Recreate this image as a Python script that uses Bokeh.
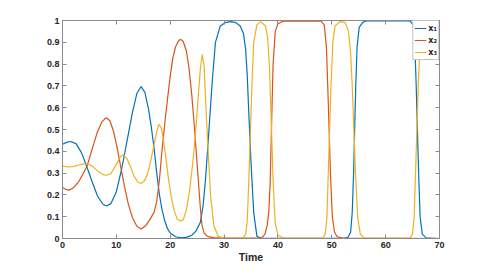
from bokeh.plotting import figure
from bokeh.models import Range1d, FixedTicker, LinearAxis, Legend, LegendItem
from bokeh.embed import file_html
from bokeh.resources import INLINE

# ---- data ----
t1 = [0, 0.75, 1.5, 2.5, 3.5, 4.5, 5.5, 6.5, 7.5, 8.2, 9, 10, 11, 12, 13, 13.8, 14.6, 15.3, 16, 16.5,
      17, 17.5, 18, 18.5, 19, 19.5, 20, 21, 22, 23, 24, 24.8, 25.6, 26.1, 26.55, 27.2, 27.8, 28.4, 29.3,
      30.2, 31.2, 32.2, 33.0, 33.6, 34.0, 34.3, 34.6, 35.0, 35.5, 36.1, 37, 52.3, 53.0, 53.5, 53.8, 54.05,
      54.25, 54.45, 54.7, 55.1, 55.8, 56.5, 64.5, 65.1, 65.4, 65.65, 65.9, 66.15, 66.4, 66.8, 67.5, 70]
x1 = [0.432, 0.441, 0.445, 0.435, 0.395, 0.33, 0.26, 0.195, 0.157, 0.149, 0.16, 0.215, 0.32, 0.45, 0.58,
      0.665, 0.697, 0.67, 0.59, 0.51, 0.415, 0.30, 0.20, 0.13, 0.08, 0.045, 0.025, 0.008, 0.003, 0.005,
      0.015, 0.035, 0.075, 0.15, 0.27, 0.5, 0.72, 0.90, 0.975, 0.99, 0.995, 0.99, 0.975, 0.94, 0.87, 0.75,
      0.57, 0.35, 0.12, 0.01, 0.001, 0.001, 0.005, 0.03, 0.12, 0.3, 0.5, 0.7, 0.88, 0.97, 0.993, 0.998,
      0.998, 0.98, 0.9, 0.72, 0.5, 0.28, 0.1, 0.02, 0.003, 0.0]

t2 = [0, 0.6, 1.2, 2, 3, 4, 4.6, 5.5, 6.5, 7.3, 8.1, 8.8, 9.5, 10.2, 10.8, 11.5, 12.2, 13, 13.8, 14.6,
      15.5, 16.3, 17, 17.5, 18, 18.5, 19, 19.5, 20, 20.5, 21, 21.5, 21.9, 22.4, 23, 23.5, 24, 24.5, 25,
      25.3, 25.6, 25.9, 26.3, 26.9, 28, 30, 37, 37.6, 38.0, 38.3, 38.55, 38.8, 39.1, 39.5, 40, 41, 48,
      48.6, 49, 49.25, 49.5, 49.75, 50.1, 50.5, 51, 52, 70]
x2 = [0.234, 0.226, 0.222, 0.232, 0.26, 0.305, 0.335, 0.41, 0.49, 0.535, 0.554, 0.54, 0.49, 0.41, 0.33,
      0.24, 0.16, 0.095, 0.056, 0.044, 0.06, 0.09, 0.12, 0.17, 0.27, 0.41, 0.53, 0.64, 0.745, 0.83, 0.88,
      0.905, 0.914, 0.905, 0.86, 0.78, 0.66, 0.51, 0.34, 0.24, 0.14, 0.06, 0.025, 0.01, 0.004, 0.002,
      0.003, 0.02, 0.06, 0.12, 0.25, 0.5, 0.8, 0.95, 0.985, 0.997, 0.997, 0.98, 0.88, 0.7, 0.5, 0.3, 0.1,
      0.03, 0.008, 0.002, 0.0]

t3 = [0, 1, 2, 3, 4, 4.6, 5.5, 6.5, 7.5, 8.2, 9, 10, 10.7, 11.3, 12, 12.6, 13.3, 14, 14.6, 15.2, 15.6, 16,
      16.5, 17, 17.5, 17.9, 18.3, 18.7, 19.2, 19.7, 20.2, 20.7, 21.3, 21.9, 22.4, 23, 23.6, 24.2, 24.7,
      25.2, 25.6, 25.95, 26.3, 26.55, 27.0, 27.5, 28.1, 28.9, 30, 33.5, 34.0, 34.3, 34.6, 34.9, 35.2,
      35.5, 36.1, 36.8, 37.7, 38.1, 38.4, 38.75, 39.1, 39.5, 40, 41, 48.3, 48.8, 49.1, 49.35, 49.6, 49.85,
      50.2, 50.6, 51.5, 52.5, 53.1, 53.5, 53.8, 54.1, 54.4, 54.8, 55.3, 56, 64.5, 65, 65.3, 65.55, 65.8,
      66.05, 66.4, 66.8, 67.5, 70]
x3 = [0.332, 0.328, 0.33, 0.337, 0.342, 0.343, 0.333, 0.31, 0.293, 0.29, 0.298, 0.34, 0.375, 0.384, 0.365,
      0.33, 0.285, 0.258, 0.253, 0.265, 0.285, 0.315, 0.37, 0.43, 0.49, 0.523, 0.51, 0.46, 0.37, 0.27,
      0.19, 0.13, 0.09, 0.08, 0.085, 0.13, 0.22, 0.35, 0.48, 0.65, 0.78, 0.845, 0.79, 0.647, 0.42, 0.197,
      0.06, 0.01, 0.002, 0.002, 0.02, 0.08, 0.27, 0.5, 0.72, 0.9, 0.98, 0.995, 0.975, 0.92, 0.8, 0.55,
      0.27, 0.07, 0.015, 0.002, 0.002, 0.02, 0.1, 0.3, 0.5, 0.7, 0.9, 0.975, 0.995, 0.99, 0.95, 0.85, 0.7,
      0.5, 0.3, 0.1, 0.02, 0.003, 0.002, 0.02, 0.1, 0.3, 0.5, 0.7, 0.9, 0.975, 0.995, 0.998]

series_names = ["x\u2081", "x\u2082", "x\u2083"]
x_ticks = [0, 10, 20, 30, 40, 50, 60, 70]
y_ticks = [0, 0.1, 0.2, 0.3, 0.4, 0.5, 0.6, 0.7, 0.8, 0.9, 1]
y_tick_labels = ["0", "0.1", "0.2", "0.3", "0.4", "0.5", "0.6", "0.7", "0.8", "0.9", "1"]
x_label = "Time"

# ---- styling ----
colors = ["#0072BD", "#D95319", "#EDB120"]
AX = "#8a8a8a"
TXT = "#262626"
FONT = "Liberation Sans"

p = figure(width=477, height=265, output_backend="svg", toolbar_location=None,
           x_range=Range1d(0, 70), y_range=Range1d(0, 1),
           min_border_left=62, min_border_right=38, min_border_top=20, min_border_bottom=23)
p.background_fill_color = "white"
p.border_fill_color = "white"
p.outline_line_color = AX
p.xgrid.visible = False
p.ygrid.visible = False

renderers = []
for t, v, c in zip([t1, t2, t3], [x1, x2, x3], colors):
    renderers.append(p.line(t, v, line_color=c, line_width=1.2))

def style_axis(ax):
    ax.axis_line_color = AX
    ax.major_tick_line_color = AX
    ax.major_tick_in = 4
    ax.major_tick_out = 0
    ax.minor_tick_in = 0
    ax.minor_tick_out = 0
    ax.major_label_text_font = FONT
    ax.major_label_text_font_style = "bold"
    ax.major_label_text_color = TXT
    ax.major_label_text_font_size = "9px"
    ax.major_label_standoff = 3

xa = p.xaxis[0]
xa.ticker = FixedTicker(ticks=x_ticks)
style_axis(xa)
xa.axis_label = x_label
xa.axis_label_text_font = FONT
xa.axis_label_text_font_style = "bold"
xa.axis_label_text_font_size = "10.5px"
xa.axis_label_text_color = TXT
xa.axis_label_standoff = 0

ya = p.yaxis[0]
ya.ticker = FixedTicker(ticks=y_ticks)
ya.major_label_overrides = {k: s for k, s in zip(y_ticks, y_tick_labels)}
style_axis(ya)

# box ticks on top and right, without labels
top = LinearAxis(ticker=FixedTicker(ticks=x_ticks))
style_axis(top)
top.major_label_overrides = {k: "" for k in x_ticks}
top.major_label_standoff = 0
p.add_layout(top, "above")
right = LinearAxis(ticker=FixedTicker(ticks=y_ticks))
style_axis(right)
right.major_label_overrides = {k: "" for k in y_ticks}
right.major_label_standoff = 0
p.add_layout(right, "right")

legend = Legend(items=[LegendItem(label=n, renderers=[r]) for n, r in zip(series_names, renderers)],
                location="top_right")
legend.margin = 0
legend.padding = 1
legend.spacing = 0
legend.glyph_width = 12
legend.glyph_height = 12
legend.label_height = 12
legend.label_width = 6
legend.label_standoff = 2
legend.label_text_font = "DejaVu Sans"
legend.label_text_font_style = "bold"
legend.label_text_font_size = "8px"
legend.label_text_color = TXT
legend.border_line_color = AX
legend.background_fill_alpha = 1
p.add_layout(legend, "center")

open("out.html", "w").write(file_html(p, INLINE))
